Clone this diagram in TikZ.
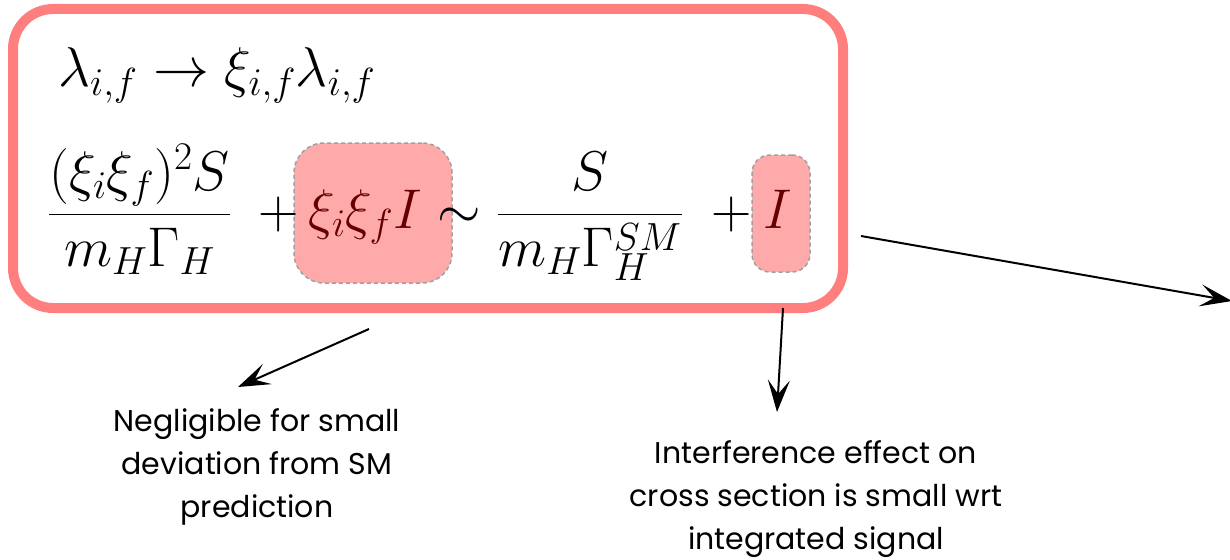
\RequirePackage{fix-cm}
\documentclass[tikz,border=0pt]{standalone}
\usepackage{fontspec}
\newfontfamily\hand{Poppins}
\usetikzlibrary{arrows.meta}
\definecolor{framecol}{HTML}{FF7F7F}
\definecolor{hlfill}{HTML}{FFAAAA}
\definecolor{hlborder}{HTML}{A0A0A0}
\definecolor{hltext}{HTML}{660000}
\begin{document}
\begin{tikzpicture}[x=1pt,y=-1pt,
  frame/.style={draw=framecol, line width=10pt, rounded corners=40pt, inner sep=0pt},
  hl/.style={fill=hlfill, draw=hlborder, dash pattern=on 4pt off 3pt, line width=1.5pt, rounded corners=#1, inner sep=0pt},
  mathtxt/.style={inner sep=0pt, anchor=base west, font=\fontsize{56}{66}\selectfont},
  hltxt/.style={mathtxt, text=hltext},
  note/.style={align=center, font=\hand\fontsize{30}{43}\selectfont, inner sep=0pt},
  conn/.style={draw=black, line width=2pt, -{Stealth[length=32pt,width=22pt,inset=14pt]}}
]
\useasboundingbox (0,0) rectangle (1230,559);
% outer frame
\node[frame, minimum width=830pt, minimum height=299pt] (frame) at (428,158.5) {};
% highlight boxes
\node[hl=30pt, minimum width=158pt, minimum height=140pt] (b1) at (373,213) {};
\node[hl=18pt, minimum width=58pt, minimum height=117pt] (b2) at (781,213.5) {};
% first line
\node[mathtxt] (eq1) at (58,87) {$\lambda_{i,f}\to\xi_{i,f}\lambda_{i,f}$};
% second line
\node[mathtxt] (fr1) at (48,228) {$\displaystyle\frac{(\xi_i\xi_f)^2S}{m_H\Gamma_H}$};
\node[mathtxt] (p1) at (258,228) {$+$};
\node[hltxt] (xi) at (308,228) {$\xi_i\xi_f I$};
\node[mathtxt] (sim) at (437,228) {$\sim$};
\node[mathtxt] (fr2) at (497,228) {$\displaystyle\frac{S}{m_H\Gamma_H^{SM}}$};
\node[mathtxt] (p2) at (711,228) {$+$};
\node[hltxt] (iI) at (763,228) {$I$};
% notes
\node[note] (n1) at (257,467) {Negligible for small\\deviation from SM\\prediction};
\node[note] (n2) at (816,499) {Interference effect on\\cross section is small wrt\\integrated signal};
% connectors
\coordinate (a1s) at (369,329);
\coordinate (a1e) at (238,387);
\coordinate (a2s) at (783,308);
\coordinate (a2e) at (777,412);
\coordinate (a3s) at (861,236);
\coordinate (a3e) at (1232,301);
\draw[conn] (a1s) -- (a1e);
\draw[conn] (a2s) -- (a2e);
\draw[conn] (a3s) -- (a3e);
\end{tikzpicture}
\end{document}
